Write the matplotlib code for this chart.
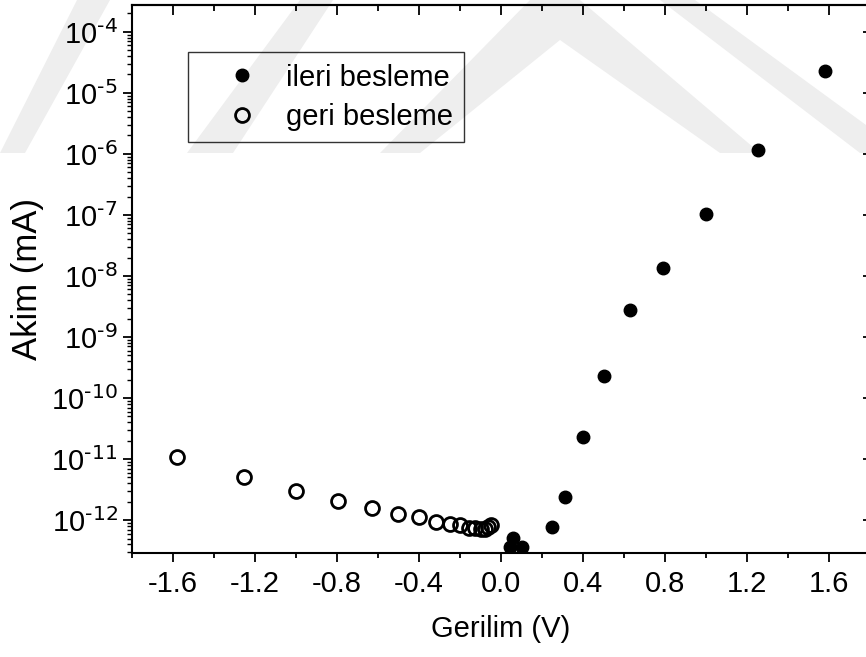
import math
import matplotlib
matplotlib.use('Agg')
import matplotlib.pyplot as plt
from matplotlib.patches import Polygon
from matplotlib.ticker import LogLocator, FixedLocator, MultipleLocator, FuncFormatter

plt.rcParams['font.family'] = ['Liberation Sans', 'DejaVu Sans']
plt.rcParams['mathtext.default'] = 'regular'
plt.rcParams['axes.unicode_minus'] = False

# ileri besleme (forward bias)
v_fwd = [0.045, 0.06, 0.10, 0.25, 0.31, 0.40, 0.50, 0.63, 0.79, 1.0, 1.255, 1.58]
i_fwd = [3.7e-13, 5.1e-13, 3.7e-13, 7.8e-13, 2.4e-12, 2.3e-11, 2.3e-10,
         2.8e-9, 1.37e-8, 1.03e-7, 1.16e-6, 2.3e-5]

# geri besleme (reverse bias)
v_rev = [-1.58, -1.255, -1.0, -0.794, -0.631, -0.501, -0.398, -0.316, -0.251,
         -0.200, -0.158, -0.126, -0.100, -0.079, -0.063, -0.050]
i_rev = [1.1e-11, 5.15e-12, 2.96e-12, 2.06e-12, 1.6e-12, 1.28e-12, 1.13e-12,
         9.3e-13, 8.8e-13, 8.2e-13, 7.4e-13, 7.5e-13, 7.2e-13, 7.3e-13, 7.8e-13, 8.2e-13]

x_ticks = [-1.6, -1.2, -0.8, -0.4, 0.0, 0.4, 0.8, 1.2, 1.6]

W, H = 866, 657
fig = plt.figure(figsize=(W / 100, H / 100), dpi=100)

# faint background watermark (pixel coords, y down)
wm_shapes = [
    [(0, 153), (25, 153), (110, 0), (77, 0)],
    [(187, 153), (233, 153), (333, 0), (300, 0)],
    [(380, 153), (420, 153), (560, 40), (720, 153), (760, 153), (580, 0), (530, 0)],
    [(660, 0), (695, 0), (866, 125), (866, 153), (860, 153)],
]
for pts in wm_shapes:
    fig.patches.append(Polygon([(x / W, 1 - y / H) for x, y in pts], closed=True,
                               transform=fig.transFigure, facecolor='#eeeeee',
                               edgecolor='none', zorder=-5))

ax = fig.add_axes([132 / W, (H - 553) / H, (870 - 132) / W, (553 - 5) / H])
ax.patch.set_alpha(0)

ax.plot(v_fwd, i_fwd, 'o', color='black', ms=9, label='ileri besleme')
ax.plot(v_rev, i_rev, 'o', mfc='none', mec='black', mew=2, ms=10, label='geri besleme')

ax.set_yscale('log')
ax.set_xlim(-1.8, 1.8)
ax.set_ylim(2.9e-13, 2.74e-4)

ax.xaxis.set_major_locator(FixedLocator(x_ticks))
ax.xaxis.set_minor_locator(MultipleLocator(0.2))
ax.xaxis.set_major_formatter(FuncFormatter(lambda x, p: f'{x:.1f}'))
ax.yaxis.set_major_locator(LogLocator(base=10, numticks=20))
ax.yaxis.set_minor_locator(LogLocator(base=10, subs=range(2, 10), numticks=20))
ax.yaxis.set_major_formatter(
    FuncFormatter(lambda y, p: r'$10^{\text{%d}}$' % round(math.log10(y))))

for s in ax.spines.values():
    s.set_linewidth(1.5)

ax.tick_params(axis='x', which='major', direction='out', length=6.5, width=1.3,
               labelsize=21, pad=6, top=False)
ax.tick_params(axis='x', which='minor', direction='out', length=3.5, width=1.3, top=False)
ax.tick_params(axis='y', which='major', direction='out', length=6.5, width=1.3,
               labelsize=21, pad=4, right=False)
ax.tick_params(axis='y', which='minor', direction='out', length=3.5, width=1.0, right=False)

# top and right ticks point inward
axt = ax.secondary_xaxis('top')
axt.set_xticks(x_ticks)
axt.xaxis.set_minor_locator(MultipleLocator(0.2))
axt.tick_params(which='major', direction='in', length=7, width=1.3, labeltop=False)
axt.tick_params(which='minor', direction='in', length=4, width=1.3)
axt.spines['top'].set_linewidth(1.5)

axr = ax.secondary_yaxis('right')
axr.yaxis.set_major_locator(LogLocator(base=10, numticks=20))
axr.yaxis.set_minor_locator(LogLocator(base=10, subs=range(2, 10), numticks=20))
axr.tick_params(which='major', direction='in', length=5, width=1.3, labelright=False)
axr.tick_params(which='minor', direction='in', length=2, width=1.0)

ax.set_xlabel('Gerilim (V)', fontsize=21, labelpad=12)
ax.set_ylabel('Akim (mA)', fontsize=25, labelpad=5)

leg = ax.legend(loc='upper left',
                bbox_to_anchor=((188 - 132) / (870 - 132), 1 - (52 - 5) / (553 - 5)),
                fontsize=21, frameon=True, fancybox=False, edgecolor='black',
                facecolor='none', framealpha=None,
                handletextpad=0.05, borderpad=0.4, labelspacing=0.38, handlelength=2.9,
                borderaxespad=0)
leg.get_frame().set_linewidth(1.0)

fig.savefig('out.png', dpi=100)
